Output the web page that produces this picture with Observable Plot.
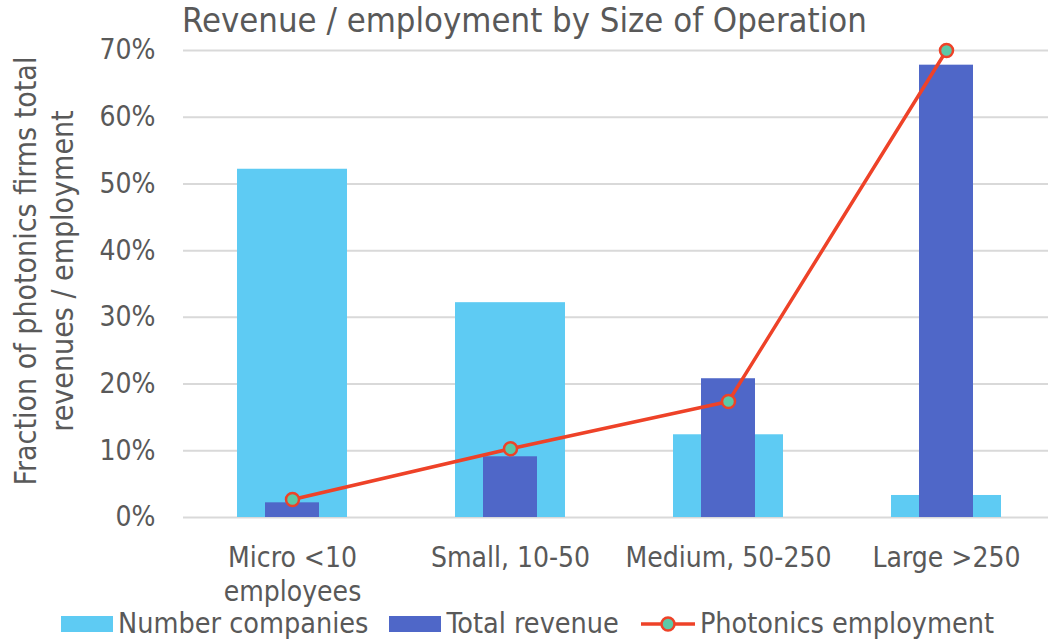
<!DOCTYPE html>
<html>
<head>
<meta charset="utf-8">
<script src="https://cdn.jsdelivr.net/npm/d3@7"></script>
<script src="https://cdn.jsdelivr.net/npm/@observablehq/plot@0.6"></script>
<style>
  html, body { margin: 0; padding: 0; background: #fff; }
  body { font-family: "DejaVu Sans Condensed", "DejaVu Sans", sans-serif; color: #595959; }
  #wrap { position: relative; width: 1048px; height: 640px; overflow: hidden; }
  #title { position: absolute; left: 182px; top: 0px; font-size: 34.4px; white-space: nowrap; }
  #ylab-anchor { position: absolute; left: 44px; top: 271px; width: 0; height: 0; }
  #ylab { position: absolute; left: 0; top: 0; transform: translate(-50%, -50%) rotate(-90deg);
          white-space: nowrap; text-align: center; font-size: 30px; line-height: 37px; }
  #legend { position: absolute; left: 61px; top: 608px; height: 32px; display: flex; align-items: center; font-size: 28.5px; line-height: 32px; white-space: nowrap; }
  .item { display: flex; align-items: center; margin-right: 21px; }
  .sw { width: 52px; height: 16px; margin-right: 5px; }
  #chart { position: absolute; left: 0; top: 0; }
</style>
</head>
<body>
<div id="wrap">
  <div id="chart"></div>
  <div id="title"></div>
  <div id="ylab-anchor"><div id="ylab"></div></div>
  <div id="legend"></div>
</div>
<script>
const categories = ["Micro <10\nemployees", "Small, 10-50", "Medium, 50-250", "Large >250"];
const numberCompanies = [0.522, 0.322, 0.124, 0.033];
const totalRevenue = [0.022, 0.091, 0.208, 0.678];
const photonicsEmployment = [0.027, 0.103, 0.174, 0.700];
const yTicks = [0, 0.1, 0.2, 0.3, 0.4, 0.5, 0.6, 0.7];
const seriesNames = ["Number companies", "Total revenue", "Photonics employment"];
const titleText = "Revenue / employment by Size of Operation";
const yLabelLines = ["Fraction of photonics firms total", "revenues / employment"];

const colors = { companies: "#5ECBF3", revenue: "#4F67C8", line: "#EE4228", dot: "#5CC9A7", grid: "#D9D9D9", text: "#595959" };

const data = categories.map((c, i) => ({
  cat: c,
  companies: numberCompanies[i],
  revenue: totalRevenue[i],
  employment: photonicsEmployment[i]
}));

const font = '"DejaVu Sans Condensed", "DejaVu Sans", sans-serif';

const chart = Plot.plot({
  width: 1048,
  height: 640,
  marginLeft: 183,
  marginRight: 0,
  marginTop: 50,
  marginBottom: 123,
  style: { fontFamily: font, color: colors.text, background: "transparent" },
  x: { type: "band", domain: categories, range: [183, 1055], padding: 0 },
  y: { domain: [0, 0.7] },
  marks: [
    Plot.ruleY(yTicks, { stroke: colors.grid, strokeWidth: 2 }),
    Plot.barY(data, { x: "cat", y: "companies", fill: colors.companies, insetLeft: 54, insetRight: 54 }),
    Plot.barY(data, { x: "cat", y: "revenue", fill: colors.revenue, insetLeft: 82, insetRight: 82 }),
    Plot.line(data, { x: "cat", y: "employment", stroke: colors.line, strokeWidth: 3.5 }),
    Plot.dot(data, { x: "cat", y: "employment", r: 6.5, fill: colors.dot, stroke: colors.line, strokeWidth: 2.5 }),
    Plot.axisY(yTicks, { tickFormat: d3.format(".0%"), tickSize: 0, tickPadding: 28, fontSize: 28, label: null, fill: colors.text }),
    Plot.axisX({ tickSize: 0, tickPadding: 25, fontSize: 28, lineHeight: 1.22, label: null, fill: colors.text })
  ]
});
document.getElementById("chart").appendChild(chart);

document.getElementById("title").textContent = titleText;
document.getElementById("ylab").innerHTML = yLabelLines.map(s => `<div>${s}</div>`).join("");

const legend = document.getElementById("legend");
const legendItems = [
  { name: seriesNames[0], type: "bar", color: colors.companies },
  { name: seriesNames[1], type: "bar", color: colors.revenue },
  { name: seriesNames[2], type: "line" }
];
for (const it of legendItems) {
  const el = document.createElement("div");
  el.className = "item";
  if (it.type === "bar") {
    el.innerHTML = `<div class="sw" style="background:${it.color}"></div><span>${it.name}</span>`;
  } else {
    el.innerHTML = `<svg width="56" height="20" style="margin-right:4px"><line x1="1" y1="10" x2="55" y2="10" stroke="${colors.line}" stroke-width="3.5"/><circle cx="28" cy="10" r="6.5" fill="${colors.dot}" stroke="${colors.line}" stroke-width="2.5"/></svg><span>${it.name}</span>`;
  }
  legend.appendChild(el);
}
</script>
</body>
</html>
